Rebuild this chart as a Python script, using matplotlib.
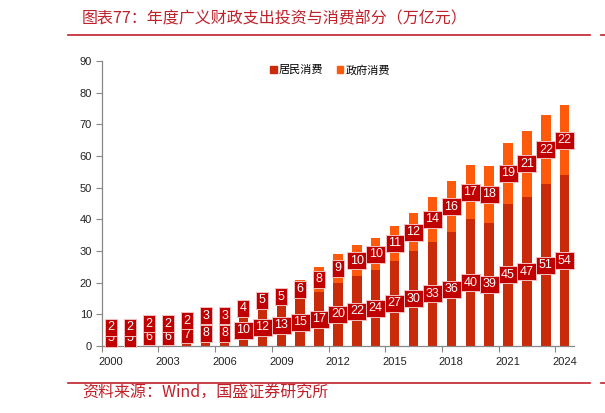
import matplotlib
matplotlib.use("Agg")
import matplotlib.pyplot as plt
from matplotlib.patches import Rectangle
from matplotlib.lines import Line2D
import numpy as np

plt.rcParams['font.family'] = ['Liberation Sans', 'Noto Sans CJK SC', 'DejaVu Sans']

years = list(range(2000, 2025))
resident = [5, 5, 6, 6, 7, 8, 8, 10, 12, 13, 15, 17, 20, 22, 24, 27, 30, 33, 36, 40, 39, 45, 47, 51, 54]
government = [2, 2, 2, 2, 2, 3, 3, 4, 5, 5, 6, 8, 9, 10, 10, 11, 12, 14, 16, 17, 18, 19, 21, 22, 22]
series_names = ['居民消费', '政府消费']
title = '图表77：年度广义财政支出投资与消费部分（万亿元）'
source = '资料来源：Wind，国盛证券研究所'

c_res = '#C92A0A'
c_gov = '#FF5A0C'
c_lab = '#C00000'
red = '#C0202A'

fig = plt.figure(figsize=(6.05, 4.13), dpi=100)
ax = fig.add_axes([101.7/605, 67/413, 472.5/605, 285/413])

x = np.arange(len(years))
ax.bar(x, resident, width=0.5, color=c_res, zorder=2)
ax.bar(x, government, width=0.5, bottom=resident, color=c_gov, zorder=2)

box = dict(boxstyle='square,pad=0.2', fc=c_lab, ec='#F2C0C0', lw=0.7)
for i in range(len(years)):
    ax.text(x[i], resident[i] / 2, str(resident[i]), ha='center', va='center',
            color='white', fontsize=9, bbox=box, zorder=3)
for i in range(len(years)):
    ax.text(x[i], resident[i] + government[i] / 2, str(government[i]), ha='center', va='center',
            color='white', fontsize=9, bbox=box, zorder=4)

ax.set_xlim(-0.5, len(years) - 0.5)
ax.set_ylim(0, 90)
ax.set_yticks(range(0, 91, 10))
ax.set_xticks(np.arange(-0.5, len(years) - 0.5, 3))
ax.set_xticklabels([])
ax.set_xticks(x[::3], minor=True)
ax.set_xticklabels([str(y) for y in years[::3]], minor=True)
ax.tick_params(axis='x', which='minor', length=0, pad=8, labelsize=8, labelcolor='#222222')
ax.tick_params(axis='x', which='major', length=4, color='#888888')
ax.tick_params(axis='y', length=4, color='#888888', labelsize=8, labelcolor='#222222', pad=3)
for s in ['top', 'right']:
    ax.spines[s].set_visible(False)
for s in ['left', 'bottom']:
    ax.spines[s].set_color('#888888')
    ax.spines[s].set_linewidth(0.9)

handles = [Rectangle((0, 0), 1, 1, color=c_res), Rectangle((0, 0), 1, 1, color=c_gov)]
leg = ax.legend(handles, series_names, loc='center', bbox_to_anchor=(330/605, 1 - 70/413),
                bbox_transform=fig.transFigure, ncol=2, frameon=False,
                handlelength=0.6, handleheight=0.6, handletextpad=0.2, columnspacing=1.2,
                prop={'family': ['Noto Sans CJK SC'], 'size': 8})

fig.text(82/605, 1 - 19/413, title, ha='left', va='center', color=red, fontsize=11.5,
         style='italic', weight='light', family=['Noto Sans CJK SC', 'DejaVu Sans'])
fig.text(82/605, 1 - 393/413, source, ha='left', va='center', color=red, fontsize=11.5,
         style='italic', weight='light', family=['Noto Sans CJK SC', 'DejaVu Sans'])

for yy in [35, 382.5]:
    fig.add_artist(Line2D([67.7/605, 590/605], [1 - yy/413, 1 - yy/413], color=red, lw=1.2))
    fig.add_artist(Line2D([601/605, 1.0], [1 - yy/413, 1 - yy/413], color=red, lw=1.2))

fig.savefig('out.png', dpi=100)
